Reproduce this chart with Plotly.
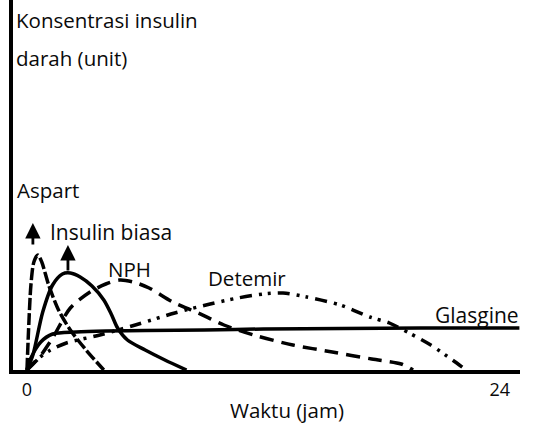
import plotly.graph_objects as go

# Data (hours, concentration in arbitrary units)
aspart_x = [0, 0.08, 0.2, 0.35, 0.55, 0.75, 1.1, 1.6, 2.2, 3.0, 3.9]
aspart_y = [0, 40, 85, 108, 115, 108, 85, 60, 40, 20, 0]

biasa_x = [0, 0.3, 0.8, 1.3, 1.8, 2.2, 2.7, 3.3, 3.9, 4.3, 4.6, 5.1, 6.0, 7.0, 8.1]
biasa_y = [0, 15, 58, 85, 96, 97, 93, 84, 70, 55, 42, 30, 20, 10, 0]

nph_x = [0, 0.6, 1.3, 2.2, 3.2, 4.0, 4.7, 5.4, 6.2, 7.4, 8.7, 10.0, 11.5, 13.5, 15.5, 17.5, 19.0, 19.6]
nph_y = [0, 12, 32, 62, 78, 86, 90, 88, 82, 68, 57, 45, 35, 25, 18, 11, 6, 0]

detemir_x = [0, 0.6, 1.2, 2.0, 3.7, 5.5, 7.5, 9.3, 10.7, 12.0, 13.0, 14.2, 15.9, 17.4, 18.4, 19.4, 20.5, 21.6, 22.3]
detemir_y = [0, 12, 20, 27, 35, 45, 57, 66, 72, 76, 77, 73, 65, 53, 47, 37, 25, 10, 0]

glasgine_x = [0, 0.15, 0.7, 1.3, 2.5, 4, 6, 9, 12, 16, 20, 25]
glasgine_y = [0, 10, 28, 36, 38, 39, 39.5, 40, 41, 41.5, 42, 42]

tick_vals = [0, 24]
tick_text = ["0", "24"]

FONT = "Open Sans"
TXT = "#0a0a0a"

fig = go.Figure()

def add(x, y, dash, width=3.5):
    fig.add_trace(go.Scatter(x=x, y=y, mode="lines",
                             line=dict(color="black", width=width, dash=dash, shape="spline", smoothing=0.8),
                             showlegend=False, hoverinfo="skip"))

add(glasgine_x, glasgine_y, "solid")
add(detemir_x, detemir_y, "12px,7px,3px,6px,3px,7px")
add(nph_x, nph_y, "14px,8px")
add(biasa_x, biasa_y, "solid")
add(aspart_x, aspart_y, "12px,3px")

annotations = []
def txt(x, y, s, size=20.5, xanchor="left"):
    annotations.append(dict(x=x, y=y, xref="x", yref="y", text=s, showarrow=False, xanchor=xanchor,
                            yanchor="middle", font=dict(family=FONT, size=size, color=TXT)))

txt(-0.66, 350, "Konsentrasi insulin")
txt(-0.66, 312, "darah (unit)")
txt(-0.6, 180, "Aspart")
txt(1.05, 138, "Insulin biasa", size=21)
txt(4.0, 101, "NPH")
txt(9.1, 92, "Detemir")
txt(20.6, 55, "Glasgine", size=21)
annotations.append(dict(x=13.2, y=-0.108, xref="x", yref="paper", text="Waktu (jam)", showarrow=False,
                        xanchor="center", yanchor="middle", font=dict(family=FONT, size=20.5, color=TXT)))

# arrows
annotations.append(dict(x=0.3, y=147, ax=0.3, ay=124, xref="x", yref="y", axref="x", ayref="y", text="",
                        showarrow=True, arrowhead=2, arrowsize=1.1, arrowwidth=2.8, arrowcolor="black"))
annotations.append(dict(x=2.08, y=125, ax=2.08, ay=98, xref="x", yref="y", axref="x", ayref="y", text="",
                        showarrow=True, arrowhead=2, arrowsize=1.1, arrowwidth=2.8, arrowcolor="black"))

fig.update_layout(
    width=534, height=427,
    margin=dict(l=13, r=14, t=0, b=57),
    paper_bgcolor="white", plot_bgcolor="white",
    annotations=annotations,
    xaxis=dict(range=[-0.71, 25.03], showgrid=False, zeroline=False, showline=True, linecolor="black", linewidth=4,
               tickvals=tick_vals, ticktext=tick_text, ticks="",
               tickfont=dict(family=FONT, size=18, color=TXT)),
    yaxis=dict(range=[0, 370], showgrid=False, zeroline=False, showline=True, linecolor="black", linewidth=4,
               showticklabels=False, ticks=""),
)

fig.write_html("out.html", config={"displayModeBar": False},
               post_script="document.body.style.margin='0';")
